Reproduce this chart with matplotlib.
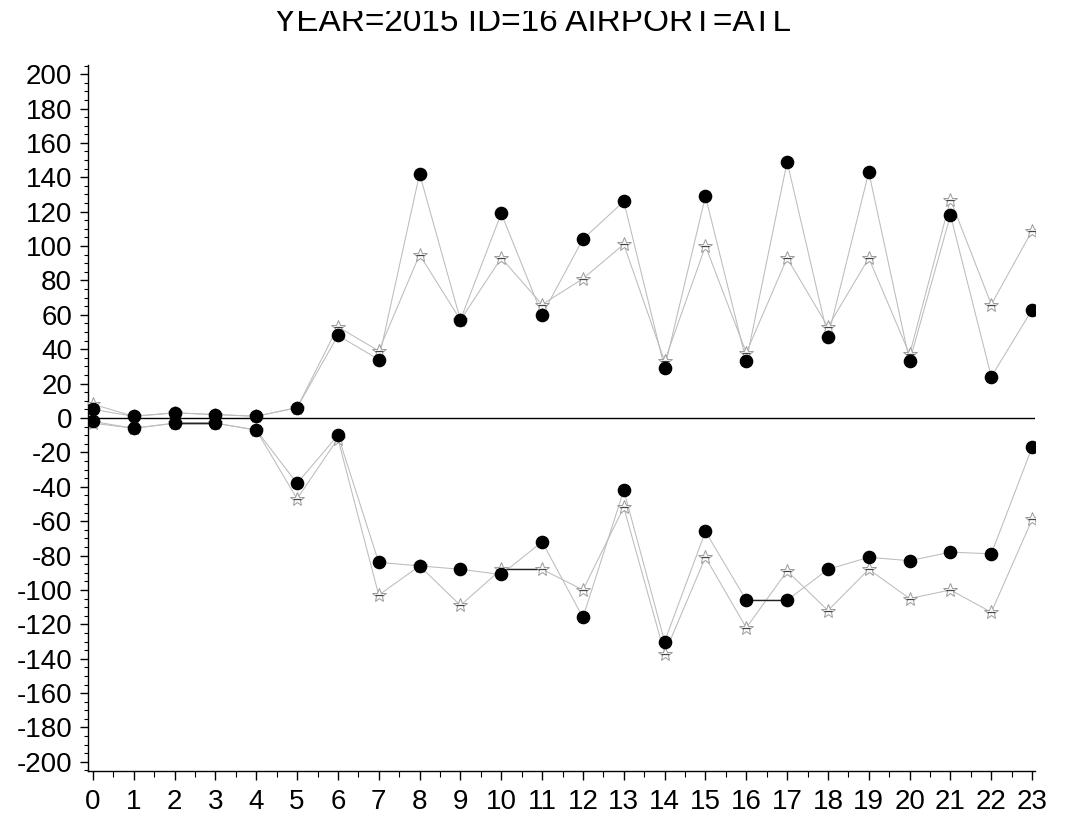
import matplotlib
matplotlib.use("Agg")
import matplotlib.pyplot as plt
from matplotlib.ticker import MultipleLocator
from matplotlib.transforms import Bbox

plt.rcParams["font.family"] = ["Liberation Sans", "DejaVu Sans"]
plt.rcParams["axes.unicode_minus"] = False

TITLE = "YEAR=2015 ID=16 AIRPORT=ATL"

hours = list(range(24))

# upper / lower values, filled circles (series 1) and open stars (series 2)
circ_up = [5, 1, 3, 2, 1, 6, 48, 34, 142, 57, 119, 60,
           104, 126, 29, 129, 33, 149, 47, 143, 33, 118, 24, 63]
star_up = [8, 1, 3, 2, 1, 6, 53, 39, 95, 57, 93, 66,
           81, 101, 33, 100, 38, 93, 53, 93, 37, 127, 66, 109]
circ_lo = [-2, -6, -3, -3, -7, -38, -10, -84, -86, -88, -91, -72,
           -116, -42, -130, -66, -106, -106, -88, -81, -83, -78, -79, -17]
star_lo = [-3, -6, -3, -3, -7, -47, -12, -103, -86, -109, -88, -88,
           -100, -52, -137, -81, -122, -89, -112, -88, -105, -100, -113, -59]

LINE_GREY = "#bcbcbc"


def draw_series(ax, x, y):
    ax.plot(x, y, color=LINE_GREY, linewidth=0.75, zorder=2)
    # flat stretches come out as dark strokes
    for i in range(len(y) - 1):
        if y[i] == y[i + 1]:
            ax.plot([x[i], x[i + 1]], [y[i], y[i + 1]], color="#222222",
                    linewidth=1.0, zorder=2.5)


fig = plt.figure(figsize=(10.66, 8.13), dpi=100)
ax = fig.add_axes([88 / 1066, 42 / 813, (1035 - 88) / 1066, (771 - 65) / 813])

for ys in (star_up, star_lo, circ_up, circ_lo):
    draw_series(ax, hours, ys)

for ys in (star_up, star_lo):
    ax.plot(hours, ys, linestyle="none", marker="*", markersize=10,
            markerfacecolor="white", markeredgecolor="#9a9a9a",
            markeredgewidth=0.7, zorder=3)
    ax.plot(hours, ys, linestyle="none", marker="_", markersize=6,
            markeredgecolor="#444444", markeredgewidth=0.9, zorder=3.1)

for ys in (circ_up, circ_lo):
    ax.plot(hours, ys, linestyle="none", marker="o", markersize=8.8,
            color="black", zorder=4)

ax.axhline(0, color="black", linewidth=1.0, zorder=1)

ax.set_xlim(-0.12, 23.07)
ax.set_ylim(-205.3, 205.3)
ax.spines["top"].set_visible(False)
ax.spines["right"].set_visible(False)
for s in ("left", "bottom"):
    ax.spines[s].set_linewidth(1.0)

ax.set_yticks(range(-200, 201, 20))
ax.yaxis.set_minor_locator(MultipleLocator(5))
ax.set_xticks(hours)
ax.xaxis.set_minor_locator(MultipleLocator(0.5))
ax.tick_params(axis="y", which="major", direction="out", length=5.5,
               width=1.0, labelsize=20, pad=6)
ax.tick_params(axis="y", which="minor", direction="out", length=2.8,
               width=0.8)
ax.tick_params(axis="x", which="major", direction="out", length=6.5,
               width=1.0, labelsize=20, pad=6.5)
ax.tick_params(axis="x", which="minor", direction="out", length=4.5,
               width=0.8)

title = fig.text(0.5, 1 - 31 / 813, TITLE, ha="center", va="baseline",
                 fontsize=24)
# the heading hugs the top edge; its upper strip is cut off
title.set_clip_box(Bbox.from_extents(0, 0, 1066, 813 - 11))
title.set_clip_on(True)

fig.savefig("out.png", dpi=100)
